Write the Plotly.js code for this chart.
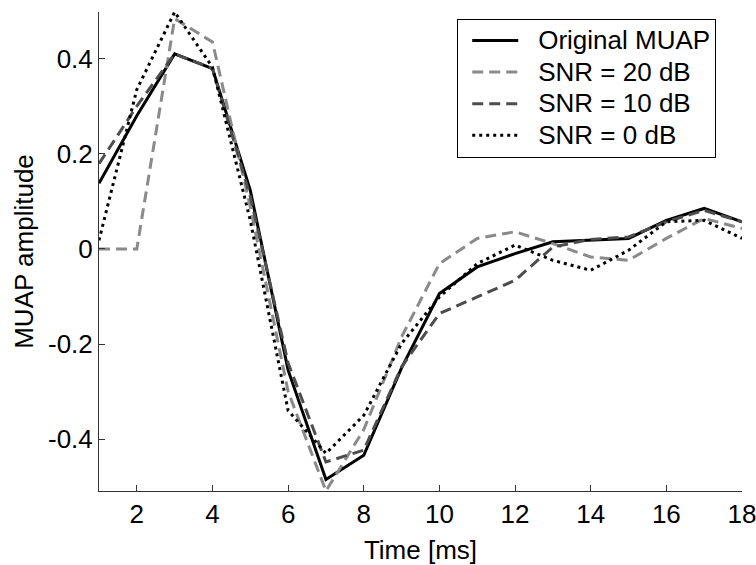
<!DOCTYPE html>
<html>
<head>
<meta charset="utf-8">
<script src="https://cdn.plot.ly/plotly-3.0.1.min.js"></script>
<style>
html,body{margin:0;padding:0;background:#fff;}
#chart{width:756px;height:565px;}
.legendtext{font-size:26px !important;}
#chart .legendlines path{d:path("M14,0h46");}
</style>
</head>
<body>
<div id="chart"></div>
<script>
const timeMs = [1,2,3,4,5,6,7,8,9,10,11,12,13,14,15,16,17,18];
const originalMuap = [0.138,0.28,0.41,0.379,0.123,-0.255,-0.485,-0.434,-0.25,-0.094,-0.038,-0.01,0.015,0.018,0.022,0.06,0.085,0.057];
const snr20 = [0,0,0.484,0.435,0.088,-0.30,-0.509,-0.38,-0.185,-0.031,0.022,0.036,0.011,-0.017,-0.024,0.022,0.064,0.043];
const snr10 = [0.179,0.30,0.41,0.379,0.11,-0.24,-0.448,-0.423,-0.248,-0.136,-0.101,-0.066,0.004,0.02,0.025,0.057,0.081,0.057];
const snr0 = [0.018,0.335,0.498,0.382,0.06,-0.34,-0.43,-0.35,-0.199,-0.101,-0.031,0.008,-0.024,-0.045,-0.003,0.057,0.06,0.022];
const seriesNames = ['Original MUAP','SNR = 20 dB','SNR = 10 dB','SNR = 0 dB'];
const xTickVals = [2,4,6,8,10,12,14,16,18];
const yTickVals = [-0.4,-0.2,0,0.2,0.4];
const yTickText = ['-0.4','-0.2','0','0.2','0.4'];

const FONT = 'Liberation Sans, Arial, sans-serif';
const traces = [
  {x: timeMs, y: originalMuap, name: seriesNames[0], mode: 'lines',
   line: {color: '#000000', width: 3, dash: 'solid'}},
  {x: timeMs, y: snr20, name: seriesNames[1], mode: 'lines',
   line: {color: '#8a8a8a', width: 3, dash: '11px,6px'}},
  {x: timeMs, y: snr10, name: seriesNames[2], mode: 'lines',
   line: {color: '#4d4d4d', width: 3, dash: '11px,6px'}},
  {x: timeMs, y: snr0, name: seriesNames[3], mode: 'lines',
   line: {color: '#000000', width: 3, dash: '3px,4px'}}
];
const layout = {
  width: 756, height: 565,
  margin: {l: 99, r: 14.4, t: 11.7, b: 74.3, pad: 0},
  paper_bgcolor: '#ffffff', plot_bgcolor: '#ffffff',
  font: {family: FONT, size: 26, color: '#000000'},
  showlegend: true,
  legend: {x: 0.5571, y: 0.986, xanchor: 'left', yanchor: 'top',
    bordercolor: '#000000', borderwidth: 1, bgcolor: '#ffffff',
    font: {family: FONT, size: 22, color: '#000000'}, itemwidth: 70, tracegroupgap: 0},
  xaxis: {range: [1, 18], tickvals: xTickVals, ticks: 'inside', ticklen: 6, tickwidth: 1,
    tickcolor: '#333333', showline: true, linecolor: '#333333', linewidth: 1, mirror: false,
    showgrid: false, zeroline: false, tickfont: {family: FONT, size: 26}, ticklabeloverflow: 'allow',
    title: {text: 'Time [ms]', font: {family: FONT, size: 26}, standoff: 12}},
  yaxis: {range: [-0.509, 0.498], tickvals: yTickVals, ticktext: yTickText, ticks: 'inside', ticklen: 6, tickwidth: 1,
    tickcolor: '#333333', showline: true, linecolor: '#333333', linewidth: 1, mirror: false,
    showgrid: false, zeroline: false, tickfont: {family: FONT, size: 26},
    title: {text: 'MUAP amplitude', font: {family: FONT, size: 26}, standoff: 6}}
};
Plotly.newPlot('chart', traces, layout, {staticPlot: true, displayModeBar: false});
</script>
</body>
</html>
